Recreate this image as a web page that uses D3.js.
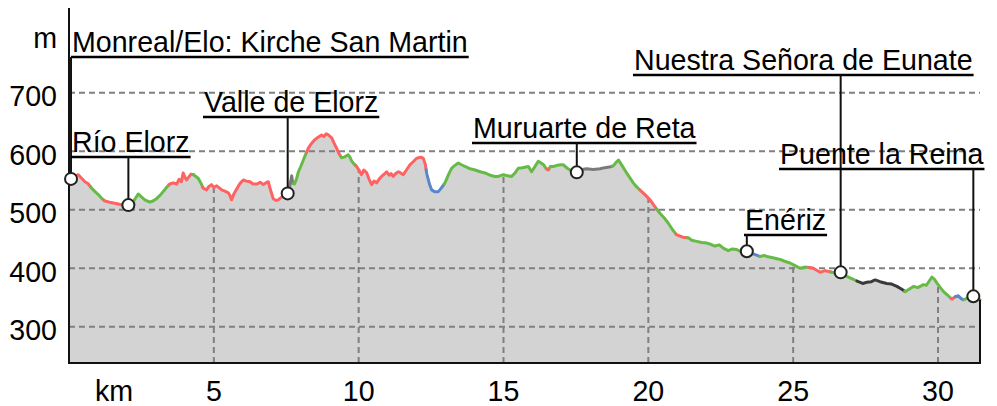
<!DOCTYPE html>
<html>
<head>
<meta charset="utf-8">
<script src="https://cdn.jsdelivr.net/npm/d3@7"></script>
<style>
  html, body { margin: 0; padding: 0; background: #fff; }
  svg { display: block; font-family: "Liberation Sans", Arial, sans-serif; }
</style>
</head>
<body>
<svg id="chart" width="997" height="406"></svg>
<script>
// Elevation profile: distance (km) and altitude (m)
const distanceKm = [
  0.00, 0.15, 0.32, 0.45, 0.55, 0.65, 0.78, 0.90, 1.01, 1.12, 1.24, 1.40, 1.58, 1.70, 1.82, 1.95, 2.05,
  2.22, 2.39, 2.50, 2.62, 2.79, 2.90, 3.02, 3.15, 3.25, 3.38, 3.48, 3.60, 3.72, 3.80, 3.88, 3.94, 4.00,
  4.06, 4.12, 4.21, 4.30, 4.46, 4.55, 4.63, 4.75, 4.83, 4.92, 5.00, 5.10, 5.20, 5.27, 5.38, 5.50, 5.56,
  5.61, 5.70, 5.84, 5.92, 6.02, 6.12, 6.25, 6.35, 6.48, 6.60, 6.71, 6.80, 6.88, 6.95, 7.05, 7.15, 7.22,
  7.35, 7.45, 7.55, 7.62, 7.69, 7.72, 7.78, 7.85, 7.92, 8.00, 8.09, 8.18, 8.26, 8.35, 8.49, 8.60, 8.72,
  8.80, 8.88, 8.95, 9.07, 9.15, 9.24, 9.32, 9.41, 9.50, 9.64, 9.70, 9.76, 9.85, 9.93, 10.02, 10.10,
  10.18, 10.28, 10.36, 10.45, 10.53, 10.62, 10.70, 10.79, 10.88, 10.97, 11.05, 11.12, 11.19, 11.28,
  11.37, 11.45, 11.54, 11.65, 11.77, 11.90, 12.00, 12.06, 12.15, 12.23, 12.30, 12.35, 12.45, 12.52,
  12.62, 12.75, 12.85, 12.98, 13.10, 13.21, 13.30, 13.44, 13.55, 13.67, 13.85, 14.02, 14.20, 14.36,
  14.55, 14.70, 14.82, 15.00, 15.15, 15.28, 15.40, 15.51, 15.65, 15.86, 15.97, 16.10, 16.20, 16.30,
  16.38, 16.48, 16.55, 16.62, 16.72, 16.85, 17.00, 17.06, 17.20, 17.30, 17.42, 17.53, 17.70, 17.87,
  18.10, 18.33, 18.50, 18.65, 18.79, 18.90, 18.97, 19.10, 19.25, 19.48, 19.60, 19.77, 19.90, 20.06,
  20.20, 20.40, 20.55, 20.69, 20.85, 20.98, 21.20, 21.38, 21.50, 21.67, 21.85, 22.02, 22.15, 22.30,
  22.45, 22.60, 22.76, 22.90, 23.05, 23.20, 23.40, 23.60, 23.86, 24.00, 24.09, 24.30, 24.55, 24.70,
  24.89, 25.05, 25.24, 25.40, 25.64, 25.80, 25.93, 26.10, 26.27, 26.45, 26.64, 26.85, 27.08, 27.25,
  27.40, 27.54, 27.70, 27.83, 28.00, 28.23, 28.40, 28.58, 28.75, 28.87, 29.00, 29.15, 29.30, 29.50,
  29.60, 29.79, 29.88, 29.96, 30.08, 30.19, 30.35, 30.48, 30.58, 30.70, 30.80, 30.88, 31.00, 31.22,
  31.45
];
const altitudeM = [
  550, 556, 560, 553, 548, 545, 537, 531, 526, 520, 515, 513, 511, 510, 508, 507, 508,
  514, 527, 522, 517, 513, 515, 519, 525, 531, 539, 544, 546, 544, 552, 548, 563, 556,
  551, 555, 561, 560, 554, 546, 537, 534, 540, 543, 538, 541, 537, 534, 532, 529, 524,
  517, 528, 540, 546, 551, 549, 548, 544, 544, 547, 543, 546, 548, 535, 519, 516, 517,
  522, 527, 528, 540, 558, 546, 544, 552, 565, 574, 585, 596, 605, 612, 620, 624, 628,
  625, 630, 628, 623, 614, 605, 596, 589, 590, 594, 590, 583, 578, 574, 567, 560,
  568, 563, 552, 543, 549, 546, 552, 557, 561, 565, 559, 562, 557, 562,
  565, 563, 560, 568, 577, 583, 588, 589, 590, 588, 578, 562, 543, 534,
  531, 531, 537, 546, 560, 571, 575, 580, 577, 574, 570, 568, 565, 563,
  559, 557, 557, 560, 558, 557, 563, 571, 572, 574, 565, 575, 583, 580,
  577, 570, 568, 574, 574, 576, 577, 577, 571, 568, 566, 564, 569, 570,
  569, 570, 572, 573, 575, 582, 585, 575, 563, 546, 539, 531, 525, 517,
  507, 494, 486, 477, 465, 457, 453, 452, 448, 446, 444, 443, 441, 438,
  440, 434, 430, 433, 432, 428, 429, 425, 420, 422, 420, 418, 415, 412,
  409, 405, 400, 402, 401, 397, 393, 396, 394, 392, 393, 386, 381, 377,
  374, 376, 377, 380, 377, 374, 373, 369, 364, 360, 364, 369, 367, 372,
  371, 385, 381, 375, 367, 360, 353, 347, 351, 353, 348, 346, 349, 352,
  346
];

// Surface sections along the route: start km, end km, surface type
const sectionStart = [0.00, 0.75, 1.20, 2.10, 3.45, 4.30, 4.62, 7.60, 7.75, 8.20, 9.40, 9.90, 12.33,
  12.95, 16.50, 16.60, 17.55, 18.75, 19.70, 20.30, 20.95, 21.35, 23.45, 23.85, 25.55, 26.30, 27.20,
  28.85, 30.45, 30.60, 30.90];
const sectionEnd = [0.75, 1.20, 2.10, 3.45, 4.30, 4.62, 7.60, 7.75, 8.20, 9.40, 9.90, 12.33, 12.95,
  16.50, 16.60, 17.55, 18.75, 19.70, 20.30, 20.95, 21.35, 23.45, 23.85, 25.55, 26.30, 27.20, 28.85,
  30.45, 30.60, 30.90, 31.45];
const sectionType = ["road", "path", "road", "path", "road", "path", "road", "unknown", "path", "road",
  "path", "road", "track", "path", "road", "path", "unknown", "path", "road", "path", "road", "path",
  "track", "path", "road", "path", "gravel", "path", "road", "track", "path"];

// Waypoints
const waypointName = ["Monreal/Elo: Kirche San Martin", "Río Elorz", "Valle de Elorz",
  "Muruarte de Reta", "Enériz", "Nuestra Señora de Eunate", "Puente la Reina"];
const waypointKm = [0.07, 2.05, 7.55, 17.53, 23.40, 26.64, 31.22];

// Axis ticks
const xTicks = [5, 10, 15, 20, 25, 30];
const yTicks = [300, 400, 500, 600, 700];

// ---- layout ----
const fontSize = 28.6;
const typeColor = { road: "#ff6262", path: "#66bb47", track: "#5b86cc", unknown: "#7a7a7a", gravel: "#3a3a3a" };
// label placement: left edge of the label text and height of its underline (px)
const labelLeft = [72, 72, 204, 473, 745, 634, 780];
const labelLineY = [57, 157, 117, 143, 235, 75, 169];

const svg = d3.select("#chart");
const x = d3.scaleLinear().domain([0, 31.45]).range([69, 980]);
const y = d3.scaleLinear().domain([238, 845]).range([363, 8]);

const pts = distanceKm.map((d, i) => ({ km: d, m: altitudeM[i] }));
const bis = d3.bisector(d => d.km).left;
function altAt(km) {
  const i = Math.max(1, Math.min(pts.length - 1, bis(pts, km)));
  const a = pts[i - 1], b = pts[i];
  const t = (km - a.km) / (b.km - a.km);
  return a.m + t * (b.m - a.m);
}

// filled terrain
const area = d3.area().x(d => x(d.km)).y0(y(238)).y1(d => y(d.m));
svg.append("defs").append("clipPath").attr("id", "terrain")
  .append("path").attr("d", area(pts));
svg.append("path").attr("d", area(pts)).attr("fill", "#d3d3d3");

// grid
const grid = svg.append("g").attr("stroke", "#808080").attr("stroke-width", 2)
  .attr("stroke-dasharray", "6,4").attr("fill", "none");
grid.selectAll("line.h").data(yTicks).join("line").attr("class", "h")
  .attr("x1", x(0)).attr("x2", x(31.45))
  .attr("y1", d => y(d)).attr("y2", d => y(d));
grid.append("g").attr("clip-path", "url(#terrain)")
  .selectAll("line").data(xTicks).join("line")
  .attr("x1", d => x(d)).attr("x2", d => x(d))
  .attr("y1", y(238)).attr("y2", y(845));

// profile line coloured by section type
const line = d3.line().x(d => x(d.km)).y(d => y(d.m));
sectionStart.forEach((s, i) => {
  const e = sectionEnd[i];
  const seg = [{ km: s, m: altAt(s) }]
    .concat(pts.filter(p => p.km > s && p.km < e))
    .concat([{ km: e, m: altAt(e) }]);
  svg.append("path").attr("d", line(seg)).attr("fill", "none")
    .attr("stroke", typeColor[sectionType[i]]).attr("stroke-width", 3)
    .attr("stroke-linejoin", "round").attr("stroke-linecap", "round");
});

// axes frame
const frame = svg.append("g").attr("stroke", "#111").attr("stroke-width", 2).attr("fill", "none");
frame.append("line").attr("x1", x(0)).attr("x2", x(0)).attr("y1", 8).attr("y2", y(238) + 1);
frame.append("line").attr("x1", x(0)).attr("x2", x(31.45) + 1).attr("y1", y(238)).attr("y2", y(238));
frame.append("line").attr("x1", x(31.45)).attr("x2", x(31.45))
  .attr("y1", y(altAt(31.45))).attr("y2", y(238));

// tick labels
const txt = svg.append("g").attr("font-size", fontSize).attr("fill", "#000");
txt.selectAll("text.y").data(yTicks).join("text").attr("class", "y")
  .attr("x", 57).attr("y", d => y(d) + 13.5).attr("text-anchor", "end").text(d => d);
txt.append("text").attr("x", 57).attr("y", 48).attr("text-anchor", "end").text("m");
txt.selectAll("text.x").data(xTicks).join("text").attr("class", "x")
  .attr("x", d => x(d)).attr("y", 401).attr("text-anchor", "middle").text(d => d);
txt.append("text").attr("x", 114).attr("y", 401).attr("text-anchor", "middle").text("km");

// waypoint labels, leaders and markers
const wp = svg.append("g");
waypointName.forEach((name, i) => {
  const km = waypointKm[i];
  const mx = x(km), my = y(altAt(km));
  const ly = labelLineY[i];
  const t = wp.append("text").attr("x", labelLeft[i]).attr("y", ly - 5.5)
    .attr("font-size", fontSize).attr("fill", "#000").text(name);
  const w = t.node().getComputedTextLength();
  wp.append("line").attr("x1", labelLeft[i] - 1).attr("x2", labelLeft[i] + w + 1)
    .attr("y1", ly).attr("y2", ly).attr("stroke", "#000").attr("stroke-width", 2.5);
  wp.append("line").attr("x1", mx).attr("x2", mx).attr("y1", ly).attr("y2", my)
    .attr("stroke", "#111").attr("stroke-width", 2);
});
waypointKm.forEach(km => {
  wp.append("circle").attr("cx", x(km)).attr("cy", y(altAt(km))).attr("r", 6)
    .attr("fill", "#fff").attr("stroke", "#222").attr("stroke-width", 2);
});
</script>
</body>
</html>
